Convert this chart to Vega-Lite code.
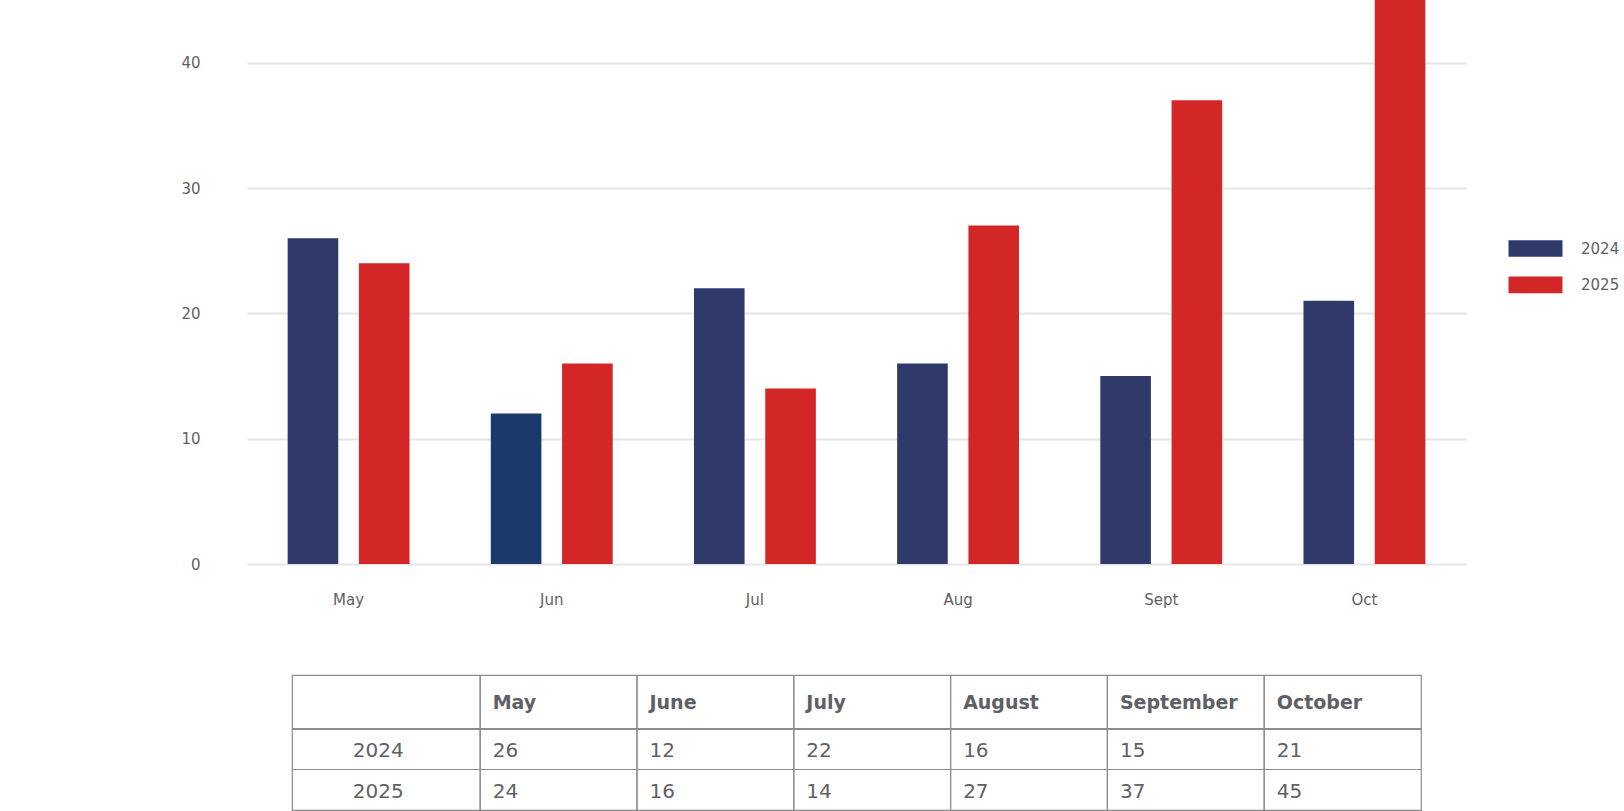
{
  "$schema": "https://vega.github.io/schema/vega-lite/v6.json",
  "padding": {"left": 180, "top": 0, "right": 0, "bottom": 0},
  "background": "white",
  "config": {"font": "DejaVu Sans", "view": {"stroke": null}},
  "datasets": {
    "d": [
      {"month": "May", "short": "May", "year": "2024", "value": 26},
      {"month": "May", "short": "May", "year": "2025", "value": 24},
      {"month": "June", "short": "Jun", "year": "2024", "value": 12},
      {"month": "June", "short": "Jun", "year": "2025", "value": 16},
      {"month": "July", "short": "Jul", "year": "2024", "value": 22},
      {"month": "July", "short": "Jul", "year": "2025", "value": 14},
      {"month": "August", "short": "Aug", "year": "2024", "value": 16},
      {"month": "August", "short": "Aug", "year": "2025", "value": 27},
      {"month": "September", "short": "Sept", "year": "2024", "value": 15},
      {"month": "September", "short": "Sept", "year": "2025", "value": 37},
      {"month": "October", "short": "Oct", "year": "2024", "value": 21},
      {"month": "October", "short": "Oct", "year": "2025", "value": 45}
    ]
  },
  "center": true,
  "bounds": "flush",
  "spacing": 111,
  "vconcat": [
    {
      "width": 1219,
      "height": 564,
      "data": {"name": "d"},
      "mark": {"type": "bar"},
      "encoding": {
        "x": {
          "field": "short", "type": "nominal",
          "sort": ["May", "Jun", "Jul", "Aug", "Sept", "Oct"],
          "scale": {"paddingInner": 0.4, "paddingOuter": 0.2},
          "axis": {"title": null, "labelAngle": 0, "domain": false, "ticks": false, "labelPadding": 28, "labelFontSize": 15, "labelColor": "#5f6066"}
        },
        "xOffset": {"field": "year", "type": "nominal", "scale": {"paddingInner": 0.29, "paddingOuter": 0}},
        "y": {
          "field": "value", "type": "quantitative",
          "scale": {"domain": [0, 45], "nice": false},
          "axis": {"title": null, "values": [0, 10, 20, 30, 40], "domain": false, "ticks": false, "labelPadding": 47, "labelFontSize": 15, "labelColor": "#5f6066", "gridColor": "#e6e6e6", "gridWidth": 2}
        },
        "color": {
          "field": "year", "type": "nominal",
          "condition": {"test": "datum.short === 'Jun' && datum.year === '2024'", "value": "#1A3A6B"},
          "scale": {"domain": ["2024", "2025"], "range": ["#2F3A6B", "#D32627"]},
          "legend": {
            "orient": "none", "legendX": 1280, "legendY": 240, "title": null, "padding": 0,
            "symbolType": "M-3.25,-1H3.25V1H-3.25Z", "symbolSize": 276, "symbolStrokeWidth": 0,
            "labelOffset": 37, "labelFontSize": 15, "labelColor": "#5f6066", "rowPadding": 19.4
          }
        }
      }
    },
    {
      "width": 1129,
      "height": 135,
      "view": {"stroke": "#8c8c8c", "strokeWidth": 1.2},
      "data": {"name": "d"},
      "layer": [
        {
          "mark": {"type": "rule", "color": "#8c8c8c", "strokeWidth": 1.2},
          "encoding": {
            "x": {"field": "month", "type": "nominal", "bandPosition": 0, "sort": ["May", "June", "July", "August", "September", "October"],
              "scale": {"type": "band", "paddingInner": 0, "paddingOuter": 0.6, "align": 1}, "axis": null}
          }
        },
        {
          "mark": {"type": "rule", "color": "#8c8c8c", "strokeWidth": 1.2},
          "encoding": {
            "y": {"field": "year", "type": "nominal", "bandPosition": 0, "sort": ["2024", "2025"],
              "scale": {"type": "band", "paddingInner": 0, "paddingOuter": 0.6667, "align": 1}, "axis": null}
          }
        },
        {
          "transform": [{"filter": "datum.year === '2024'"}],
          "mark": {"type": "text", "align": "left", "baseline": "middle", "fontSize": 19, "fontWeight": "bold", "color": "#5f6066", "dy": 1},
          "encoding": {
            "x": {"field": "month", "type": "nominal", "bandPosition": 0.08, "sort": ["May", "June", "July", "August", "September", "October"]},
            "y": {"field": "year", "type": "nominal", "bandPosition": -0.6667, "sort": ["2024", "2025"]},
            "text": {"field": "month"}
          }
        },
        {
          "mark": {"type": "text", "align": "left", "baseline": "middle", "fontSize": 20, "color": "#5f6066", "dy": 2},
          "encoding": {
            "x": {"field": "month", "type": "nominal", "bandPosition": 0.08, "sort": ["May", "June", "July", "August", "September", "October"]},
            "y": {"field": "year", "type": "nominal", "sort": ["2024", "2025"]},
            "text": {"field": "value"}
          }
        },
        {
          "transform": [{"filter": "datum.month === 'May'"}],
          "mark": {"type": "text", "align": "center", "baseline": "middle", "fontSize": 20, "color": "#5f6066", "dy": 2},
          "encoding": {
            "x": {"field": "month", "type": "nominal", "bandPosition": -0.65, "sort": ["May", "June", "July", "August", "September", "October"]},
            "y": {"field": "year", "type": "nominal", "sort": ["2024", "2025"]},
            "text": {"field": "year"}
          }
        }
      ]
    }
  ]
}
